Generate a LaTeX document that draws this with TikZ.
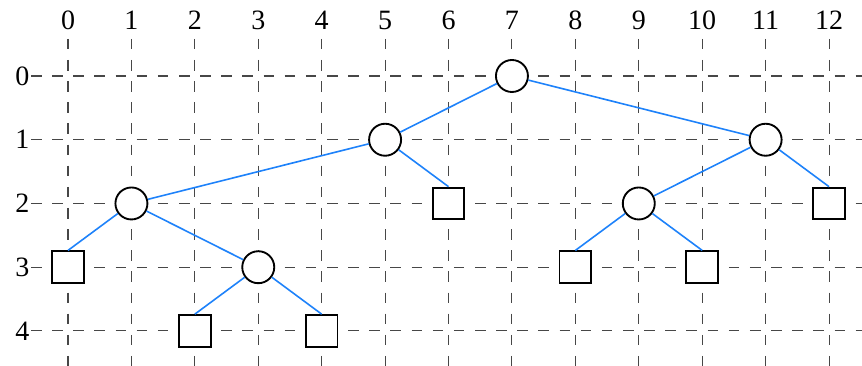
\documentclass[tikz,border=0pt]{standalone}
\usepackage{fontspec}
\setmainfont{Liberation Serif}
\definecolor{edgeblue}{RGB}{30,130,250}
\begin{document}
\begin{tikzpicture}[x=47.57pt,y=-47.81pt,
  gridline/.style={black!72,line width=0.8pt,dash pattern=on 7.93pt off 7.93pt},
  lbl/.style={font=\fontsize{21}{24}\selectfont,inner sep=0pt},
  inode/.style={circle,draw,line width=1.4pt,fill=white,minimum size=24pt,inner sep=0pt},
  leaf/.style={rectangle,draw,line width=1.4pt,fill=white,minimum size=23.8pt,inner sep=0pt},
  conn/.style={edgeblue,line width=1.2pt}]
\useasboundingbox (-1.0722,-1.1922) rectangle (12.5197,4.549);
\foreach \i in {0,...,12} {
  \coordinate (vt\i) at (\i,-0.5833);
  \coordinate (vb\i) at (\i,4.549);
  \draw[gridline] (vt\i) -- (vb\i);
  \node[lbl] (cl\i) at (\i,-0.87) {\i};
}
\foreach \j in {0,...,4} {
  \coordinate (hl\j) at (-0.5833,\j);
  \coordinate (hr\j) at (12.5197,\j);
  \draw[gridline] (hl\j) -- (hr\j);
  \node[lbl] (rl\j) at (-0.72,\j) {\j};
}
% internal nodes
\node[inode] (n7) at (7,0) {};
\node[inode] (n5) at (5,1) {};
\node[inode] (n11) at (11,1) {};
\node[inode] (n1) at (1,2) {};
\node[inode] (n9) at (9,2) {};
\node[inode] (n3) at (3,3) {};
% leaves
\node[leaf] (s6) at (6,2) {};
\node[leaf] (s12) at (12,2) {};
\node[leaf] (s0) at (0,3) {};
\node[leaf] (s8) at (8,3) {};
\node[leaf] (s10) at (10,3) {};
\node[leaf] (s2) at (2,4) {};
\node[leaf] (s4) at (4,4) {};
% connectors
\draw[conn] (n7) -- (n5);
\draw[conn] (n7) -- (n11);
\draw[conn] (n5) -- (n1);
\draw[conn] (n5) -- (s6.north);
\draw[conn] (n11) -- (n9);
\draw[conn] (n11) -- (s12.north);
\draw[conn] (n1) -- (s0.north);
\draw[conn] (n1) -- (n3);
\draw[conn] (n9) -- (s8.north);
\draw[conn] (n9) -- (s10.north);
\draw[conn] (n3) -- (s2.north);
\draw[conn] (n3) -- (s4.north);
\end{tikzpicture}
\end{document}
